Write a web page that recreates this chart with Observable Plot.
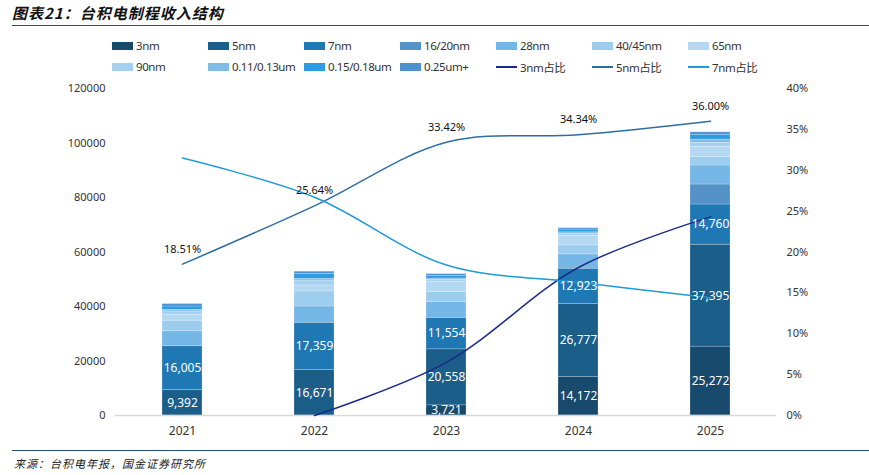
<!DOCTYPE html>
<html>
<head>
<meta charset="utf-8">
<script src="https://cdn.jsdelivr.net/npm/d3@7"></script>
<script src="https://cdn.jsdelivr.net/npm/@observablehq/plot@0.6"></script>
<style>
  html, body { margin: 0; padding: 0; background: #fff; }
  body { width: 869px; height: 475px; position: relative; overflow: hidden;
         font-family: "Noto Sans", "Noto Sans CJK SC", sans-serif; color: #333; }
  #title { position: absolute; left: 12px; top: 2px; font-family: "Noto Sans CJK SC", sans-serif;
           font-weight: 700; font-style: italic; font-size: 15px; color: #111; letter-spacing: 1px; }
  #tline { position: absolute; left: 12px; right: 0; top: 25px; height: 0; border-top: 1.5px solid #1f4e79; }
  #sline { position: absolute; left: 12px; right: 0; top: 450px; height: 0; border-top: 1.5px solid #1f4e79; }
  #source { position: absolute; left: 14px; top: 455px; font-family: "Noto Sans CJK SC", sans-serif;
            font-size: 11px; color: #222; letter-spacing: 1px; font-style: italic; }
  #legend { position: absolute; left: 112px; top: 35px; display: grid;
            grid-template-columns: repeat(7, 96px); grid-auto-rows: 21px; font-size: 11.5px; letter-spacing: -0.4px; }
  .item { display: flex; align-items: center; white-space: nowrap; }
  .sw { width: 21px; height: 8px; margin-right: 3px; flex: none; }
  .ln { width: 21px; height: 0; margin-right: 3px; flex: none; }
  #chart { position: absolute; left: 0; top: 80px; }
</style>
</head>
<body>
<div id="title">图表21：台积电制程收入结构</div>
<div id="tline"></div>
<div id="legend"></div>
<div id="chart"></div>
<div id="sline"></div>
<div id="source">来源：台积电年报，国金证券研究所</div>
<script>
const years = ["2021", "2022", "2023", "2024", "2025"];
const nodes = ["3nm", "5nm", "7nm", "16/20nm", "28nm", "40/45nm", "65nm", "90nm", "0.11/0.13um", "0.15/0.18um", "0.25um+"];
const nodeColors = ["#174a6c", "#1b5e8a", "#1f78b4", "#5592c8", "#74b7e6", "#9ccdef", "#b4d8f2", "#a5d0f0", "#7fbde9", "#2e9be0", "#4d91d1"];

const rev3nm   = [0, 0, 3721, 14172, 25272];
const rev5nm   = [9392, 16671, 20558, 26777, 37395];
const rev7nm   = [16005, 17359, 11554, 12923, 14760];
const rev16nm  = [0, 0, 0, 0, 7340];
const rev28nm  = [5500, 6000, 5750, 5250, 6970];
const rev40nm  = [3900, 5500, 3800, 3300, 3050];
const rev65nm  = [2200, 2200, 3700, 3450, 3800];
const rev90nm  = [1200, 1800, 700, 850, 1470];
const rev011um = [600, 600, 500, 500, 1200];
const rev015um = [1200, 1800, 1000, 1000, 1800];
const rev025um = [900, 850, 600, 500, 850];
const revenue = [rev3nm, rev5nm, rev7nm, rev16nm, rev28nm, rev40nm, rev65nm, rev90nm, rev011um, rev015um, rev025um];
const labeledNodes = ["3nm", "5nm", "7nm"];

const shareNames = ["3nm占比", "5nm占比", "7nm占比"];
const shareColors = ["#1a2a8c", "#2e6da4", "#1e9ad6"];
const share3nm = [null, 0, 6.5, 18.1, 24.3];
const share5nm = [18.51, 25.64, 33.42, 34.34, 36.00];
const share7nm = [31.5, 26.7, 18.4, 16.3, 14.4];
const shares = [share3nm, share5nm, share7nm];

const yTicks = [0, 20000, 40000, 60000, 80000, 100000, 120000];
const pctTicks = [0, 5, 10, 15, 20, 25, 30, 35, 40];
const pctMax = 40, yMax = 120000;

// build tables
const barData = [];
nodes.forEach((n, i) => years.forEach((yr, j) => barData.push({year: yr, node: n, value: revenue[i][j]})));
const lineData = [];
shareNames.forEach((s, i) => years.forEach((yr, j) => {
  if (shares[i][j] != null) lineData.push({year: yr, series: s, p: shares[i][j]});
}));
const k = yMax / pctMax;

// legend
const legend = document.getElementById("legend");
nodes.forEach((n, i) => {
  const d = document.createElement("div"); d.className = "item";
  d.innerHTML = `<span class="sw" style="background:${nodeColors[i]}"></span>${n}`;
  legend.appendChild(d);
});
shareNames.forEach((s, i) => {
  const d = document.createElement("div"); d.className = "item";
  d.innerHTML = `<span class="ln" style="border-top:2px solid ${shareColors[i]}"></span>${s}`;
  legend.appendChild(d);
});

const fmt = d3.format(",");
const chart = Plot.plot({
  width: 869, height: 365,
  marginTop: 8, marginBottom: 30, marginLeft: 115, marginRight: 93,
  style: {fontFamily: '"Noto Sans", "Noto Sans CJK SC", sans-serif', fontSize: "11px", color: "#333", background: "transparent"},
  x: {domain: years, paddingInner: 0.7, paddingOuter: 0.35, label: null},
  y: {domain: [0, yMax], label: null},
  color: {domain: nodes, range: nodeColors},
  marks: [
    Plot.axisX({tickSize: 0, tickPadding: 11, fontSize: 12, label: null}),
    Plot.axisY({ticks: yTicks, tickSize: 0, tickPadding: 10, tickFormat: d => String(d), label: null}),
    Plot.axisY({anchor: "right", ticks: pctTicks.map(p => p * k), tickSize: 0, tickPadding: 10,
                tickFormat: d => Math.round(d / k) + "%", label: null}),
    Plot.barY(barData, {x: "year", y: "value", fill: "node", stroke: "white", strokeOpacity: 0.35, strokeWidth: 0.6}),
    Plot.ruleY([0], {stroke: "#d9d9d9", strokeWidth: 1.5}),
    Plot.line(lineData, {x: "year", y: d => d.p * k, z: "series",
      stroke: d => shareColors[shareNames.indexOf(d.series)], strokeWidth: 1.5, curve: "catmull-rom"}),
    Plot.text(barData, Plot.stackY({x: "year", y: "value", z: "node",
      text: d => (labeledNodes.includes(d.node) && d.value > 0) ? fmt(d.value) : "",
      fill: "white", fontSize: 12})),
    Plot.text(lineData.filter(d => d.series === "5nm占比"), {x: "year", y: d => d.p * k, dy: -15,
      text: d => d.p.toFixed(2) + "%", fill: "#111", fontSize: 11})
  ]
});
document.getElementById("chart").appendChild(chart);
</script>
</body>
</html>
